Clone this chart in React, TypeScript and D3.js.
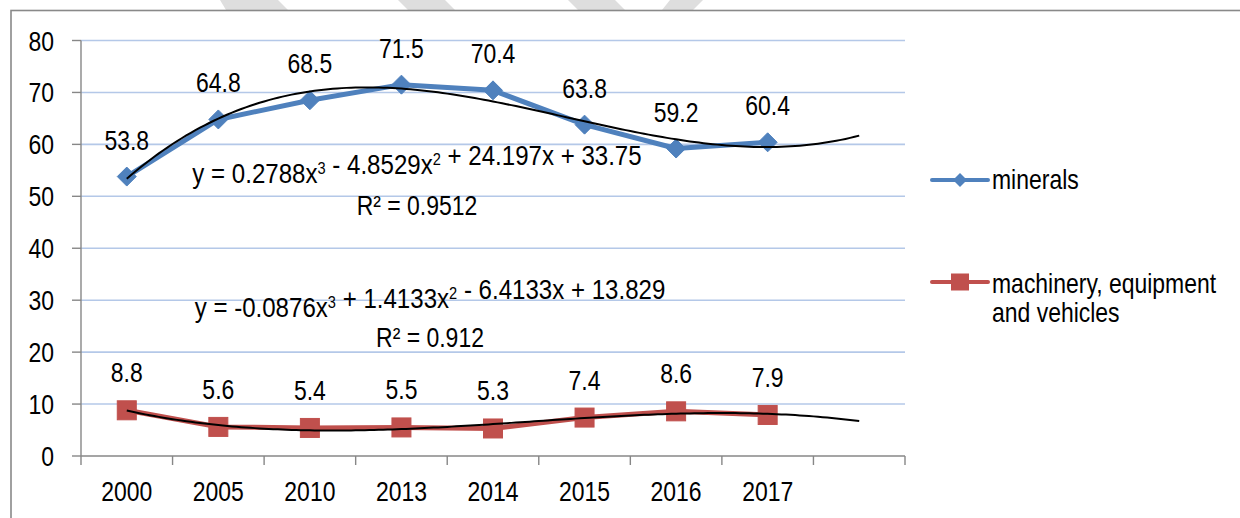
import React from 'react';
import * as d3 from 'd3';

// categories and values
const years = ['2000', '2005', '2010', '2013', '2014', '2015', '2016', '2017'];
const minerals = [53.8, 64.8, 68.5, 71.5, 70.4, 63.8, 59.2, 60.4];
const machinery = [8.8, 5.6, 5.4, 5.5, 5.3, 7.4, 8.6, 7.9];
const yTicks = [0, 10, 20, 30, 40, 50, 60, 70, 80];

// polynomial trendline coefficients (x^3, x^2, x, const) as printed on the chart
const mineralsTrend = [0.2788, -4.8529, 24.197, 33.75];
const machineryTrend = [-0.0876, 1.4133, -6.4133, 13.829];
const forecastPeriods = 1;

const BLUE = '#4f81bd';
const RED = '#c0504d';
const FONT = '"Liberation Sans Narrow", "Arial Narrow", "Liberation Sans", Arial, sans-serif';
// no narrow face installed, so squeeze the regular one
const SQUEEZE = 0.82;

const W = 1240;
const H = 518;
const left = 81;
const right = 905;
const top = 40.5;
const bottom = 456;

const slots = years.length + forecastPeriods;

type TProps = {
  x: number;
  y: number;
  anchor?: 'start' | 'middle' | 'end';
  size?: number;
  sx?: number;
  children: React.ReactNode;
};

// narrow text: scaled horizontally around its anchor point
const T: React.FC<TProps> = ({ x, y, anchor = 'start', size = 28, sx = SQUEEZE, children }) => (
  <g transform={`translate(${x},${y}) scale(${sx},1)`}>
    <text x={0} y={0} textAnchor={anchor} fontSize={size} fill="#000">
      {children}
    </text>
  </g>
);

const App: React.FC = () => {
  // index scale: band i is centred at x(i + 0.5)
  const x = d3.scaleLinear().domain([0, slots]).range([left, right]);
  const y = d3.scaleLinear().domain([0, 80]).range([bottom, top]);
  const cx = (i: number) => x(i + 0.5);

  const seriesLine = d3
    .line<number>()
    .x((_, i) => cx(i))
    .y((d) => y(d));

  const poly = (c: number[]) => (t: number) => c[0] * t * t * t + c[1] * t * t + c[2] * t + c[3];
  const ts = d3.range(1, slots + 0.0001, 0.05);
  const trendPath = (c: number[]) =>
    d3
      .line<number>()
      .x((t) => x(t - 0.5))
      .y((t) => y(poly(c)(t)))(ts) || '';

  const diamond = (px: number, py: number, r: number) =>
    `M${px},${py - r}L${px + r},${py}L${px},${py + r}L${px - r},${py}Z`;

  const sup = (s: string) => (
    <>
      <tspan dy={-9} fontSize={17}>
        {s}
      </tspan>
      <tspan dy={9}></tspan>
    </>
  );

  return (
    <svg
      width={W}
      height={H}
      style={{ position: 'absolute', left: 0, top: 0, background: '#fff' }}
      fontFamily={FONT}
    >
      {/* watermark fragments above the chart frame */}
      <g fill="#dedede">
        <polygon points="220,0 278,0 288,10 226,10" />
        <polygon points="398,0 445,0 455,10 408,10" />
        <polygon points="568,0 615,0 625,10 578,10" />
        <polygon points="670,0 703,0 693,10 662,10" />
      </g>
      <rect x={11} y={10.5} width={W} height={H} fill="#fff" stroke="#898989" strokeWidth={1.6} />

      {/* gridlines */}
      {yTicks
        .filter((t) => t > 0)
        .map((t) => (
          <line key={t} x1={left} x2={right} y1={y(t)} y2={y(t)} stroke="#b4c8e8" strokeWidth={1.6} />
        ))}

      {/* axes */}
      <line x1={left} x2={left} y1={top} y2={bottom} stroke="#878787" strokeWidth={1.4} />
      {yTicks.map((t) => (
        <g key={t}>
          <line x1={left - 9} x2={left} y1={y(t)} y2={y(t)} stroke="#878787" strokeWidth={1.4} />
          <T x={54} y={y(t) + 10} anchor="end">
            {t}
          </T>
        </g>
      ))}
      <line x1={left} x2={right} y1={bottom} y2={bottom} stroke="#878787" strokeWidth={1.4} />
      {d3.range(slots + 1).map((i) => (
        <line key={i} x1={x(i)} x2={x(i)} y1={bottom} y2={bottom + 9} stroke="#878787" strokeWidth={1.4} />
      ))}
      {years.map((yr, i) => (
        <T key={yr} x={cx(i)} y={501} anchor="middle">
          {yr}
        </T>
      ))}

      {/* series lines */}
      <path d={seriesLine(minerals) || ''} fill="none" stroke={BLUE} strokeWidth={5} strokeLinejoin="round" />
      <path d={seriesLine(machinery) || ''} fill="none" stroke={RED} strokeWidth={5} strokeLinejoin="round" />

      {/* markers */}
      {minerals.map((v, i) => (
        <path key={i} d={diamond(cx(i), y(v), 9.5)} fill={BLUE} stroke={BLUE} strokeWidth={1} />
      ))}
      {machinery.map((v, i) => (
        <rect key={i} x={cx(i) - 9.5} y={y(v) - 9.5} width={19} height={19} fill={RED} stroke={RED} strokeWidth={1} />
      ))}

      {/* trendlines */}
      <path d={trendPath(mineralsTrend)} fill="none" stroke="#000" strokeWidth={2} />
      <path d={trendPath(machineryTrend)} fill="none" stroke="#000" strokeWidth={2} />

      {/* data labels */}
      {minerals.map((v, i) => (
        <T key={i} x={cx(i)} y={y(v) - 27} anchor="middle">
          {v.toFixed(1)}
        </T>
      ))}
      {machinery.map((v, i) => (
        <T key={i} x={cx(i)} y={y(v) - 28} anchor="middle">
          {v.toFixed(1)}
        </T>
      ))}

      {/* trendline equations */}
      <T x={417} y={183} anchor="middle" sx={0.86}>
        y = 0.2788x{sup('3')} - 4.8529x{sup('2')} + 24.197x + 33.75
      </T>
      <T x={417} y={215} anchor="middle">
        R² = 0.9512
      </T>
      <T x={430} y={317} anchor="middle" sx={0.86}>
        y = -0.0876x{sup('3')} + 1.4133x{sup('2')} - 6.4133x + 13.829
      </T>
      <T x={430} y={347} anchor="middle">
        R² = 0.912
      </T>

      {/* legend */}
      <line x1={932} x2={988} y1={180} y2={180} stroke={BLUE} strokeWidth={4} strokeLinecap="round" />
      <path d={diamond(960, 180, 7)} fill={BLUE} />
      <T x={992} y={189}>
        minerals
      </T>
      <line x1={932} x2={988} y1={282} y2={282} stroke={RED} strokeWidth={4} strokeLinecap="round" />
      <rect x={951} y={273.5} width={18} height={17} fill={RED} />
      <T x={992} y={293}>
        machinery, equipment
      </T>
      <T x={992} y={322}>
        and vehicles
      </T>
    </svg>
  );
};

export default App;
